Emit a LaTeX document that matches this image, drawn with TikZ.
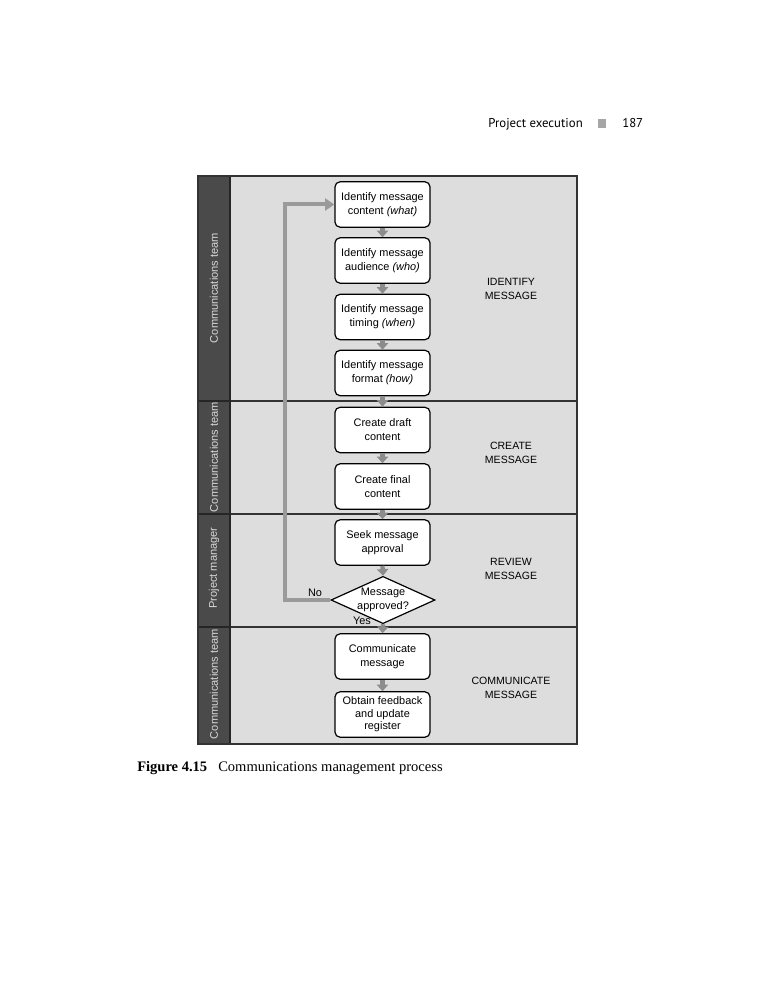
\documentclass[tikz,border=0pt]{standalone}
\usepackage{fontspec}
\setmainfont{Liberation Serif}
\setsansfont{Liberation Sans}
\newfontfamily\hdrfont{PT Sans}
\usetikzlibrary{shapes.geometric,arrows.meta}
\definecolor{lanebg}{HTML}{DDDDDD}
\definecolor{hdrbg}{HTML}{4A4A4A}
\definecolor{hdrtext}{HTML}{D8D8D8}
\definecolor{arrowgray}{HTML}{8C8C8C}
\definecolor{loopgray}{HTML}{9A9A9A}
\definecolor{frameline}{HTML}{333333}
\begin{document}
\begin{tikzpicture}[x=0.75pt,y=-0.75pt,
  box/.style={draw=black, line width=0.9pt, rounded corners=3.75pt, fill=white,
    minimum width=71.25pt, minimum height=34pt, inner sep=0pt, align=center,
    font=\sffamily\fontsize{8.2}{10.5}\selectfont},
  decision/.style={draw=black, line width=0.9pt, fill=white, diamond, shape aspect=2.2,
    minimum width=76.5pt, minimum height=35pt, inner sep=0pt, align=center,
    font=\sffamily\fontsize{8.2}{10.5}\selectfont},
  flow/.style={draw=arrowgray, line width=3.2pt, -{Triangle[width=8.5pt,length=5pt]}},
  loopline/.style={draw=loopgray, line width=3pt, -{Triangle[width=9pt,length=7pt]}},
  lanehdr/.style={rotate=90, text=hdrtext, font=\sffamily\fontsize{8.3}{10}\selectfont},
  phase/.style={align=center, font=\sffamily\fontsize{7.9}{10.1}\selectfont},
  smalllabel/.style={font=\sffamily\fontsize{8.2}{10}\selectfont, inner sep=0pt},
  laneline/.style={draw=frameline, line width=0.9pt},
  hdrsep/.style={draw=black!85, line width=0.9pt}
]
\useasboundingbox (0,0) rectangle (768,994);

% page header
\node[anchor=base east, inner sep=0pt, font=\hdrfont\fontsize{9.6}{11}\selectfont] (runhead) at (583,128) {Project execution};
\fill[gray!70] (598,119) rectangle (606,128);
\node[anchor=base west, inner sep=0pt, font=\hdrfont\fontsize{9.6}{11}\selectfont] (pageno) at (622,128) {187};

% lanes
\fill[lanebg] (230,176) rectangle (577,744);
\fill[hdrbg] (198,176) rectangle (230,744);
\foreach \yy in {401,514,627}{
  \draw[laneline] (230,\yy) -- (577,\yy);
  \draw[hdrsep] (198,\yy) -- (230,\yy);
}
\draw[hdrsep] (230,176) -- (230,744);
\draw[draw=frameline, line width=1pt] (198,176) rectangle (577,744);

\node[lanehdr] (l1) at (214,288) {Communications team};
\node[lanehdr] (l2) at (214,457) {Communications team};
\node[lanehdr] (l3) at (214,568) {Project manager};
\node[lanehdr] (l4) at (214,684) {Communications team};

\node[phase] (p1) at (511,289) {IDENTIFY\\MESSAGE};
\node[phase] (p2) at (511,453) {CREATE\\MESSAGE};
\node[phase] (p3) at (511,569) {REVIEW\\MESSAGE};
\node[phase] (p4) at (511,688) {COMMUNICATE\\MESSAGE};

% boxes
\node[box] (b1) at (382.5,204.5) {Identify message\\content \textit{(what)}};
\node[box] (b2) at (382.5,260.5) {Identify message\\audience \textit{(who)}};
\node[box] (b3) at (382.5,317) {Identify message\\timing \textit{(when)}};
\node[box] (b4) at (382.5,373) {Identify message\\format \textit{(how)}};
\node[box] (b5) at (382.5,430) {Create draft\\content};
\node[box] (b6) at (382.5,486.5) {Create final\\content};
\node[box] (b7) at (382.5,542.5) {Seek message\\approval};
\node[decision] (dia) at (383,600) {Message\\approved?};
\node[box] (b8) at (382.5,656.5) {Communicate\\message};
\node[box, font=\sffamily\fontsize{8.2}{9.4}\selectfont] (b9) at (382.5,714.5) {Obtain feedback\\and update\\register};

% connectors
\draw[flow] (b1.south) -- (b2.north);
\draw[flow] (b2.south) -- (b3.north);
\draw[flow] (b3.south) -- (b4.north);
\draw[flow] (b4.south) -- (b5.north);
\draw[flow] (b5.south) -- (b6.north);
\draw[flow] (b6.south) -- (b7.north);
\draw[flow] (b7.south) -- (dia.north);
\draw[flow] (dia.south) -- (b8.north);
\draw[flow] (b8.south) -- (b9.north);

\coordinate (lc) at (285,600);
\draw[loopline] (dia.west) -- (lc) |- (b1.west);

\node[smalllabel] (no) at (315,593) {No};
\node[smalllabel] (yes) at (362,621) {Yes};

% caption
\node[anchor=base west, inner sep=0pt, font=\rmfamily\bfseries\fontsize{10.9}{13}\selectfont] (figno) at (137,771) {Figure 4.15};
\node[anchor=base west, inner sep=0pt, font=\rmfamily\fontsize{10.9}{13}\selectfont] (figcap) at (218,771) {Communications management process};
\end{tikzpicture}
\end{document}
